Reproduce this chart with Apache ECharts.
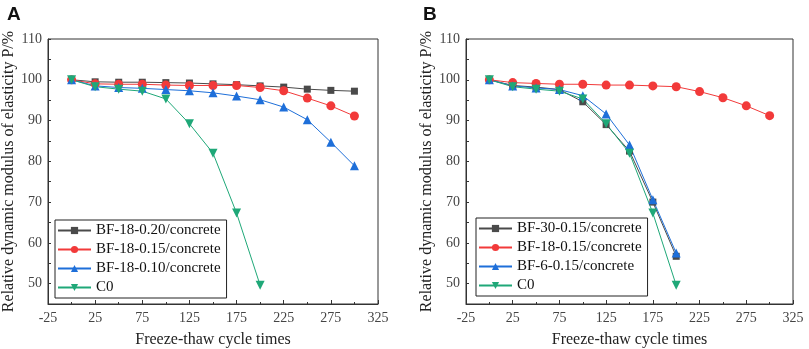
<!DOCTYPE html>
<html>
<head>
<meta charset="utf-8">
<script src="https://cdn.jsdelivr.net/npm/echarts@6/dist/echarts.min.js"></script>
<style>
  html, body { margin: 0; padding: 0; background: #fff; }
  #chart { width: 809px; height: 349px; }
</style>
</head>
<body>
<div id="chart"></div>
<script>
// freeze-thaw cycles
const cyclesLong = [0, 25, 50, 75, 100, 125, 150, 175, 200, 225, 250, 275, 300];
const cyclesShort = [0, 25, 50, 75, 100, 125, 150, 175, 200];

// panel A
const bf18_020 = [100, 99.5, 99.4, 99.4, 99.3, 99.2, 99.0, 98.8, 98.5, 98.2, 97.7, 97.4, 97.2];
const bf18_015 = [100, 99.0, 98.9, 98.9, 98.7, 98.6, 98.6, 98.6, 98.1, 97.3, 95.5, 93.6, 91.1];
const bf18_010 = [100, 98.5, 98.1, 97.9, 97.6, 97.3, 96.8, 96.0, 95.1, 93.3, 90.2, 84.7, 78.9];
const c0 = [100, 98.3, 97.7, 97.2, 95.3, 89.2, 82.0, 67.3, 49.6];

// panel B
const bf30_015 = [100, 98.6, 98.2, 97.6, 94.6, 89.0, 82.5, 70.0, 56.7];
const bf18_015b = [100, 99.3, 99.1, 98.9, 98.9, 98.7, 98.7, 98.5, 98.3, 97.1, 95.6, 93.6, 91.2];
const bf6_015 = [100, 98.5, 98.0, 97.6, 96.1, 91.6, 84.0, 70.6, 57.5];

const namesA = ['BF-18-0.20/concrete', 'BF-18-0.15/concrete', 'BF-18-0.10/concrete', 'C0'];
const namesB = ['BF-30-0.15/concrete', 'BF-18-0.15/concrete', 'BF-6-0.15/concrete', 'C0'];

const GRAY = '#4a4a4a', RED = '#f23a3a', BLUE = '#1e6fd9', GREEN = '#1fa878';
const serif = '"Liberation Serif", "Times New Roman", serif';

const chart = echarts.init(document.getElementById('chart'));

function pts(xs, ys) {
  return ys.map((v, i) => [xs[i], v]);
}

// marker: 'rect' | 'circle' | 'up' | 'down'
function line(name, xs, ys, color, marker, idx) {
  const tri = marker === 'up' || marker === 'down';
  return {
    name: name,
    type: 'line',
    xAxisIndex: idx,
    yAxisIndex: idx,
    data: pts(xs, ys),
    symbol: tri ? 'triangle' : marker,
    symbolSize: marker === 'rect' ? 7 : 9,
    symbolRotate: marker === 'down' ? 180 : 0,
    lineStyle: { color: color, width: 1 },
    itemStyle: { color: color },
    animation: false
  };
}

function xAxis(idx) {
  return {
    type: 'value',
    gridIndex: idx,
    min: -25, max: 325, interval: 50,
    name: 'Freeze-thaw cycle times',
    nameLocation: 'middle',
    nameGap: 28,
    nameTextStyle: { fontFamily: serif, fontSize: 16, color: '#222' },
    axisLine: { onZero: false, lineStyle: { color: '#333' } },
    axisTick: { inside: true, length: 4, lineStyle: { color: '#333' } },
    minorTick: { show: true, splitNumber: 2, length: 2, lineStyle: { color: '#333' } },
    axisLabel: { fontFamily: serif, fontSize: 14, color: '#444', margin: 7 },
    splitLine: { show: false }
  };
}

function yAxis(idx) {
  return {
    type: 'value',
    gridIndex: idx,
    min: 45, max: 110, interval: 5,
    name: 'Relative dynamic modulus of elasticity P/%',
    nameLocation: 'middle',
    nameGap: 29,
    nameTextStyle: { fontFamily: serif, fontSize: 16, color: '#222' },
    axisLine: { onZero: false, lineStyle: { color: '#333' } },
    axisTick: { inside: true, length: 3, lineStyle: { color: '#333' } },
    axisLabel: {
      fontFamily: serif, fontSize: 14, color: '#444', margin: 6,
      formatter: v => (v % 10 === 0 ? String(v) : '')
    },
    splitLine: { show: false }
  };
}

function legend(names, left, top) {
  return {
    data: names,
    orient: 'vertical',
    left: left, top: top,
    itemWidth: 33, itemHeight: 9,
    itemGap: 4,
    padding: [3, 6, 3, 2],
    borderColor: '#222', borderWidth: 1,
    textStyle: { fontFamily: serif, fontSize: 15, color: '#111' }
  };
}

const titleFont = { fontFamily: 'Arial, "Liberation Sans", sans-serif', fontWeight: 'bold', fontSize: 19, color: '#111' };

chart.setOption({
  backgroundColor: '#fff',
  title: [
    { text: 'A', left: 2, top: 0, textStyle: titleFont },
    { text: 'B', left: 418, top: 0, textStyle: titleFont }
  ],
  grid: [
    { left: 48, right: 431, top: 39, bottom: 45, outerBoundsMode: 'none', containLabel: false,
      show: true, borderColor: '#333', borderWidth: 1, backgroundColor: 'transparent' },
    { left: 466, right: 16, top: 39, bottom: 45, outerBoundsMode: 'none', containLabel: false,
      show: true, borderColor: '#333', borderWidth: 1, backgroundColor: 'transparent' }
  ],
  xAxis: [xAxis(0), xAxis(1)],
  yAxis: [yAxis(0), yAxis(1)],
  legend: [legend(namesA, 55, 220), legend(namesB, 476, 218)],
  series: [
    line(namesA[0], cyclesLong, bf18_020, GRAY, 'rect', 0),
    line(namesA[1], cyclesLong, bf18_015, RED, 'circle', 0),
    line(namesA[2], cyclesLong, bf18_010, BLUE, 'up', 0),
    line(namesA[3], cyclesShort, c0, GREEN, 'down', 0),
    line(namesB[0], cyclesShort, bf30_015, GRAY, 'rect', 1),
    line(namesB[1], cyclesLong, bf18_015b, RED, 'circle', 1),
    line(namesB[2], cyclesShort, bf6_015, BLUE, 'up', 1),
    line(namesB[3], cyclesShort, c0, GREEN, 'down', 1)
  ]
});
</script>
</body>
</html>
